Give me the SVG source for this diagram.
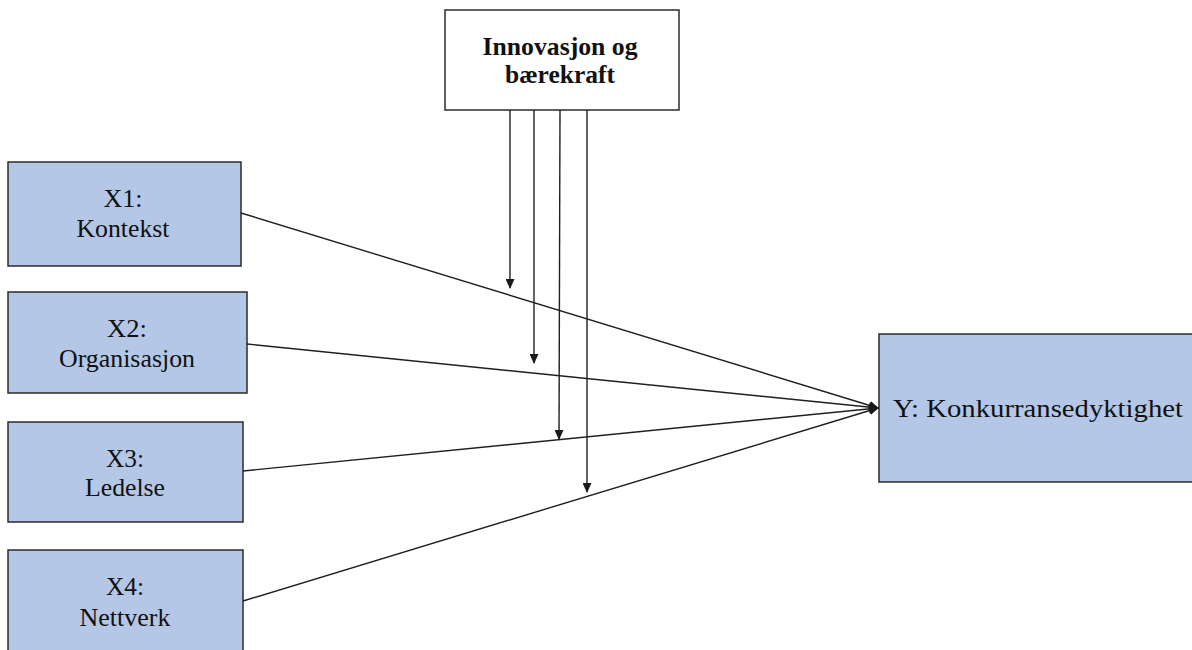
<svg xmlns="http://www.w3.org/2000/svg" width="1192" height="650" viewBox="0 0 1192 650">
  <style>
    .box { fill: #B4C7E7; stroke: #2b2b2b; stroke-width: 1.5; }
    .plain { fill: #ffffff; stroke: #2b2b2b; stroke-width: 1.5; }
    text { font-family: 'Liberation Serif', 'Times New Roman', Tinos, serif; font-size: 25px; fill: #111111; text-anchor: middle; }
    .bold { font-weight: bold; }
    .edge { fill: none; stroke: #1f1f1f; stroke-width: 1.4; }
  </style>
  <defs>
    <marker id="head" markerUnits="userSpaceOnUse" markerWidth="10" markerHeight="9" refX="9" refY="4.5" orient="auto">
      <path d="M0,0 L10,4.5 L0,9 Z" fill="#1a1a1a"/>
    </marker>
  </defs>

  <rect width="1192" height="650" fill="#ffffff"/>

  <!-- moderator -->
  <g id="innovasjon">
    <rect class="plain" x="445" y="10" width="234" height="100"/>
    <text class="bold" x="560" y="55" textLength="155" lengthAdjust="spacingAndGlyphs">Innovasjon og</text>
    <text class="bold" x="560" y="83" textLength="110" lengthAdjust="spacingAndGlyphs">bærekraft</text>
  </g>

  <!-- independent variables -->
  <g id="x1">
    <rect class="box" x="8" y="162" width="233" height="104"/>
    <text x="123" y="207" textLength="39" lengthAdjust="spacingAndGlyphs">X1:</text>
    <text x="123" y="237" textLength="93" lengthAdjust="spacingAndGlyphs">Kontekst</text>
  </g>
  <g id="x2">
    <rect class="box" x="8" y="292" width="239" height="101"/>
    <text x="127" y="337" textLength="40" lengthAdjust="spacingAndGlyphs">X2:</text>
    <text x="127" y="367" textLength="136" lengthAdjust="spacingAndGlyphs">Organisasjon</text>
  </g>
  <g id="x3">
    <rect class="box" x="8" y="422" width="235" height="100"/>
    <text x="125" y="467" textLength="38" lengthAdjust="spacingAndGlyphs">X3:</text>
    <text x="125" y="496" textLength="80" lengthAdjust="spacingAndGlyphs">Ledelse</text>
  </g>
  <g id="x4">
    <rect class="box" x="8" y="550" width="235" height="110"/>
    <text x="125" y="595" textLength="38" lengthAdjust="spacingAndGlyphs">X4:</text>
    <text x="125" y="626" textLength="91" lengthAdjust="spacingAndGlyphs">Nettverk</text>
  </g>

  <!-- dependent variable -->
  <g id="y">
    <rect class="box" x="879" y="334" width="320" height="148"/>
    <text x="1038" y="417" textLength="290" lengthAdjust="spacingAndGlyphs">Y: Konkurransedyktighet</text>
  </g>

  <!-- connectors -->
  <g id="connectors">
    <line class="edge" x1="241" y1="213" x2="878" y2="408" marker-end="url(#head)"/>
    <line class="edge" x1="247" y1="344" x2="878" y2="408" marker-end="url(#head)"/>
    <line class="edge" x1="243" y1="471" x2="878" y2="408" marker-end="url(#head)"/>
    <line class="edge" x1="243" y1="601" x2="878" y2="408" marker-end="url(#head)"/>
    <line class="edge" x1="510" y1="110" x2="510" y2="288" marker-end="url(#head)"/>
    <line class="edge" x1="534" y1="110" x2="534" y2="363" marker-end="url(#head)"/>
    <line class="edge" x1="560" y1="110" x2="559" y2="439" marker-end="url(#head)"/>
    <line class="edge" x1="587" y1="110" x2="587" y2="492" marker-end="url(#head)"/>
  </g>
</svg>
